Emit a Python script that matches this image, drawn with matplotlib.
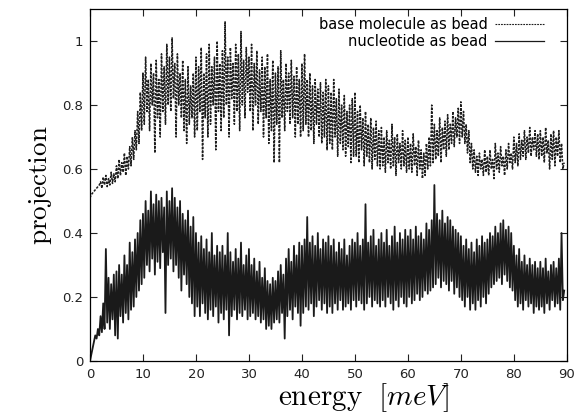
import numpy as np
import matplotlib
matplotlib.use("Agg")
import matplotlib.pyplot as plt
from matplotlib.ticker import FormatStrFormatter

# energy grid step [meV] of the sampled spectra
step = 0.25

# projection, base molecule as bead (one row = 5 meV)
base_bead = [
    0.51, 0.52, 0.525, 0.53, 0.535, 0.54, 0.545, 0.55, 0.56, 0.54, 0.575, 0.55, 0.58, 0.545, 0.57, 0.55, 0.59, 0.555, 0.585, 0.56,
    0.61, 0.57, 0.63, 0.58, 0.62, 0.59, 0.65, 0.58, 0.64, 0.60, 0.67, 0.61, 0.70, 0.63, 0.72, 0.66, 0.78, 0.68, 0.84, 0.72,
    0.90, 0.74, 0.95, 0.78, 0.88, 0.72, 0.93, 0.80, 0.90, 0.65, 0.94, 0.76, 0.88, 0.70, 0.96, 0.78, 0.92, 0.74, 0.99, 0.80,
    0.95, 0.78, 1.01, 0.82, 0.93, 0.70, 0.96, 0.80, 0.90, 0.76, 0.94, 0.72, 0.88, 0.68, 0.92, 0.74, 0.86, 0.76, 0.90, 0.70,
    0.95, 0.72, 0.92, 0.78, 0.98, 0.63, 0.90, 0.76, 0.96, 0.70, 0.99, 0.74, 0.92, 0.80, 0.95, 0.66, 1.00, 0.78, 0.93, 0.72,
    0.97, 0.76, 1.06, 0.80, 0.95, 0.70, 0.98, 0.82, 0.93, 0.74, 0.99, 0.78, 0.96, 0.72, 1.03, 0.80, 0.94, 0.76, 0.98, 0.84,
    0.95, 0.78, 0.99, 0.72, 0.93, 0.80, 0.97, 0.74, 0.91, 0.78, 0.95, 0.70, 0.92, 0.76, 0.96, 0.68, 0.88, 0.72, 0.94, 0.62,
    0.90, 0.74, 0.92, 0.62, 0.97, 0.76, 0.88, 0.72, 0.93, 0.78, 0.90, 0.74, 0.94, 0.76, 0.89, 0.70, 0.92, 0.74, 0.88, 0.70,
    0.93, 0.72, 0.96, 0.74, 0.88, 0.70, 0.90, 0.72, 0.86, 0.68, 0.88, 0.74, 0.85, 0.70, 0.87, 0.68, 0.84, 0.70, 0.88, 0.66,
    0.86, 0.68, 0.84, 0.66, 0.88, 0.70, 0.82, 0.64, 0.85, 0.68, 0.80, 0.66, 0.83, 0.64, 0.78, 0.67, 0.80, 0.62, 0.82, 0.64,
    0.84, 0.64, 0.78, 0.62, 0.80, 0.66, 0.76, 0.61, 0.78, 0.64, 0.74, 0.62, 0.76, 0.60, 0.73, 0.63, 0.75, 0.61, 0.72, 0.60,
    0.73, 0.61, 0.70, 0.59, 0.72, 0.62, 0.69, 0.60, 0.74, 0.61, 0.70, 0.58, 0.71, 0.62, 0.68, 0.60, 0.72, 0.61, 0.69, 0.59,
    0.70, 0.60, 0.68, 0.59, 0.71, 0.61, 0.67, 0.58, 0.69, 0.60, 0.66, 0.57, 0.65, 0.58, 0.68, 0.60, 0.70, 0.61, 0.80, 0.62,
    0.74, 0.63, 0.72, 0.64, 0.76, 0.62, 0.73, 0.66, 0.75, 0.64, 0.77, 0.66, 0.74, 0.68, 0.78, 0.67, 0.76, 0.70, 0.79, 0.68,
    0.81, 0.70, 0.78, 0.68, 0.74, 0.65, 0.72, 0.62, 0.68, 0.60, 0.66, 0.59, 0.64, 0.58, 0.65, 0.60, 0.63, 0.58, 0.66, 0.59,
    0.64, 0.58, 0.66, 0.60, 0.63, 0.57, 0.68, 0.60, 0.65, 0.59, 0.67, 0.61, 0.64, 0.58, 0.66, 0.60, 0.68, 0.62, 0.65, 0.60,
    0.70, 0.62, 0.68, 0.61, 0.71, 0.63, 0.69, 0.64, 0.72, 0.63, 0.70, 0.65, 0.73, 0.64, 0.70, 0.66, 0.72, 0.64, 0.71, 0.63,
    0.72, 0.64, 0.70, 0.62, 0.73, 0.65, 0.69, 0.60, 0.71, 0.63, 0.72, 0.61, 0.70, 0.64, 0.72, 0.62, 0.68, 0.60, 0.62,
]

# projection, nucleotide as bead (one row = 5 meV)
nucleotide_bead = [
    0.00, 0.02, 0.04, 0.06, 0.08, 0.07, 0.10, 0.08, 0.14, 0.09, 0.18, 0.10, 0.35, 0.12, 0.26, 0.10, 0.24, 0.13, 0.27, 0.08,
    0.28, 0.07, 0.30, 0.14, 0.27, 0.12, 0.33, 0.15, 0.30, 0.13, 0.37, 0.16, 0.34, 0.17, 0.38, 0.20, 0.40, 0.22, 0.44, 0.24,
    0.46, 0.26, 0.50, 0.30, 0.47, 0.28, 0.53, 0.32, 0.49, 0.27, 0.52, 0.31, 0.50, 0.29, 0.51, 0.34, 0.48, 0.15, 0.53, 0.30,
    0.50, 0.32, 0.54, 0.28, 0.51, 0.30, 0.48, 0.26, 0.50, 0.22, 0.46, 0.27, 0.44, 0.24, 0.47, 0.20, 0.42, 0.18, 0.45, 0.14,
    0.40, 0.17, 0.37, 0.14, 0.39, 0.18, 0.35, 0.15, 0.38, 0.13, 0.34, 0.16, 0.40, 0.14, 0.33, 0.17, 0.36, 0.12, 0.34, 0.15,
    0.36, 0.13, 0.33, 0.16, 0.40, 0.08, 0.34, 0.14, 0.31, 0.16, 0.35, 0.13, 0.32, 0.15, 0.37, 0.14, 0.30, 0.16, 0.33, 0.13,
    0.35, 0.14, 0.30, 0.15, 0.32, 0.13, 0.28, 0.14, 0.31, 0.12, 0.26, 0.13, 0.29, 0.10, 0.25, 0.11, 0.24, 0.10, 0.26, 0.12,
    0.25, 0.13, 0.28, 0.12, 0.30, 0.15, 0.27, 0.07, 0.32, 0.14, 0.35, 0.16, 0.31, 0.13, 0.36, 0.17, 0.33, 0.15, 0.37, 0.11,
    0.36, 0.15, 0.38, 0.17, 0.45, 0.16, 0.37, 0.18, 0.39, 0.14, 0.36, 0.17, 0.40, 0.19, 0.35, 0.16, 0.38, 0.18, 0.37, 0.15,
    0.39, 0.17, 0.36, 0.15, 0.38, 0.18, 0.34, 0.16, 0.37, 0.19, 0.35, 0.16, 0.38, 0.17, 0.33, 0.18, 0.36, 0.16, 0.38, 0.19,
    0.37, 0.17, 0.40, 0.19, 0.36, 0.18, 0.38, 0.16, 0.49, 0.18, 0.37, 0.20, 0.39, 0.17, 0.41, 0.19, 0.36, 0.18, 0.38, 0.17,
    0.40, 0.19, 0.37, 0.17, 0.41, 0.20, 0.36, 0.18, 0.39, 0.16, 0.42, 0.19, 0.37, 0.17, 0.40, 0.20, 0.38, 0.18, 0.41, 0.17,
    0.39, 0.20, 0.41, 0.18, 0.38, 0.19, 0.42, 0.21, 0.39, 0.19, 0.40, 0.20, 0.38, 0.22, 0.43, 0.21, 0.41, 0.22, 0.44, 0.23,
    0.55, 0.24, 0.46, 0.26, 0.44, 0.23, 0.47, 0.25, 0.43, 0.24, 0.45, 0.22, 0.44, 0.25, 0.42, 0.21, 0.41, 0.23, 0.40, 0.20,
    0.39, 0.19, 0.36, 0.17, 0.38, 0.20, 0.35, 0.16, 0.37, 0.18, 0.34, 0.16, 0.38, 0.19, 0.36, 0.17, 0.39, 0.20, 0.37, 0.18,
    0.38, 0.21, 0.40, 0.23, 0.39, 0.24, 0.42, 0.25, 0.40, 0.26, 0.43, 0.24, 0.44, 0.27, 0.41, 0.25, 0.42, 0.23, 0.40, 0.22,
    0.36, 0.19, 0.33, 0.17, 0.35, 0.18, 0.31, 0.16, 0.33, 0.19, 0.30, 0.17, 0.32, 0.18, 0.30, 0.15, 0.31, 0.17, 0.29, 0.16,
    0.31, 0.17, 0.29, 0.15, 0.32, 0.18, 0.28, 0.16, 0.30, 0.19, 0.31, 0.17, 0.29, 0.18, 0.32, 0.16, 0.40, 0.19, 0.22,
]

energy = np.arange(len(base_bead)) * step

plt.rcParams["mathtext.fontset"] = "cm"

fig = plt.figure(figsize=(5.79, 4.13), dpi=100)
ax = fig.add_axes([0.1554, 0.126, 0.8236, 0.852])

ax.plot(energy, base_bead, color="#1e1e1e", lw=1.1, ls=(0, (1.6, 0.9)),
        label="base molecule as bead")
ax.plot(energy, nucleotide_bead, color="#1a1a1a", lw=1.3, label="nucleotide as bead")

ax.set_xlim(0, 90)
ax.set_ylim(0, 1.1)
ax.set_xticks(np.arange(0, 91, 10))
ax.set_yticks([0, 0.2, 0.4, 0.6, 0.8, 1.0])
ax.yaxis.set_major_formatter(FormatStrFormatter("%g"))
ax.tick_params(direction="in", top=True, right=True, length=5, width=0.8,
               labelsize=9.5, pad=5, colors="#222222")
for s in ax.spines.values():
    s.set_linewidth(0.9)

ax.set_xlabel(r"$\mathrm{energy}\ \ [meV]$", fontsize=21)
ax.xaxis.set_label_coords(0.575, -0.057, transform=ax.transAxes)
ax.xaxis.label.set_va("top")
ax.set_ylabel(r"$\mathrm{projection}$", fontsize=19.5, labelpad=6)

leg = ax.legend(loc="upper right", frameon=False, markerfirst=False, fontsize=10.5,
                handlelength=3.4, handletextpad=0.5, borderaxespad=0.0,
                labelspacing=0.15, bbox_to_anchor=(0.965, 0.995))
leg.get_lines()[0].set_linewidth(0.8)
leg.get_lines()[1].set_linewidth(0.9)

fig.savefig("out.png", dpi=100)
